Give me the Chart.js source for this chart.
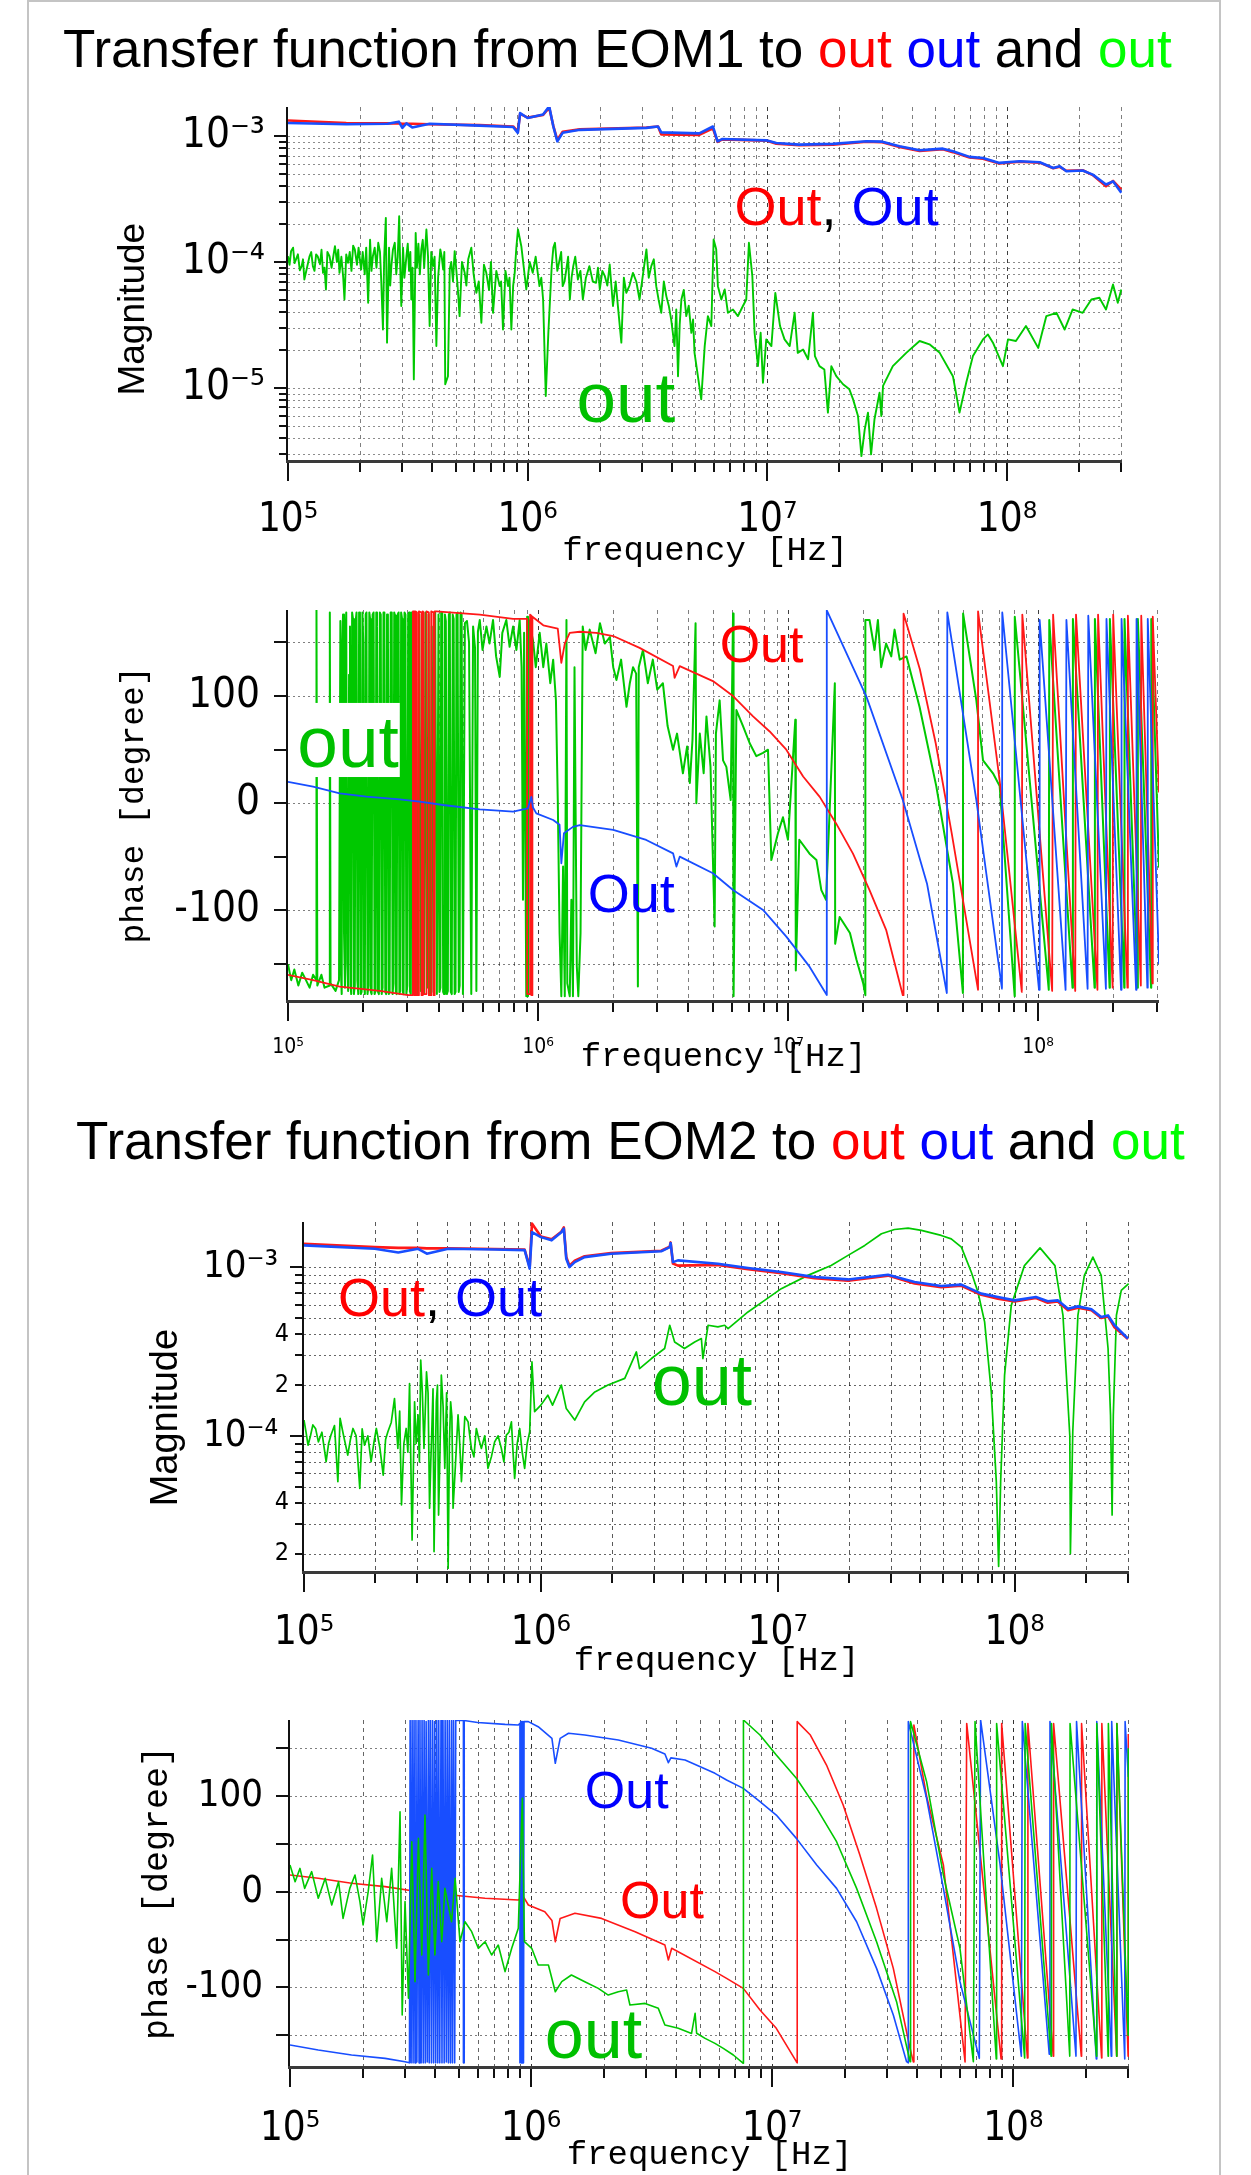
<!DOCTYPE html>
<html><head><meta charset="utf-8">
<script src="https://cdn.jsdelivr.net/npm/chart.js@4.4.1/dist/chart.umd.min.js"></script>
<style>
html,body{margin:0;padding:0;background:#fff;}
body{width:1251px;height:2175px;position:relative;overflow:hidden;font-family:'Liberation Sans',Arial,sans-serif;}
.frame{position:absolute;left:27px;top:0;width:1190px;height:2200px;border:2px solid #c4c4c4;border-bottom:none;}
.title{position:absolute;font-size:53px;line-height:53px;white-space:nowrap;color:#000;font-family:'Liberation Sans',Arial,sans-serif;}
canvas{position:absolute;left:0;}
</style></head><body>
<div class="frame"></div>
<div class="title" style="left:63px;top:22px">Transfer function from EOM1 to <span style="color:#ff0000">out</span> <span style="color:#0000ff">out</span> and <span style="color:#00ff00">out</span></div>
<div class="title" style="left:76px;top:1114px">Transfer function from EOM2 to <span style="color:#ff0000">out</span> <span style="color:#0000ff">out</span> and <span style="color:#00ff00">out</span></div>
<canvas id="c1" width="1251" height="500" style="top:80px"></canvas>
<canvas id="c2" width="1251" height="500" style="top:580px"></canvas>
<canvas id="c3" width="1251" height="510" style="top:1180px"></canvas>
<canvas id="c4" width="1251" height="485" style="top:1690px"></canvas>
<script>
// ---------- axis ticks / labels ----------
const freqTicks = [1e5,2e5,3e5,4e5,5e5,6e5,7e5,8e5,9e5,1e6,2e6,3e6,4e6,5e6,6e6,7e6,8e6,9e6,1e7,2e7,3e7,4e7,5e7,6e7,7e7,8e7,9e7,1e8,2e8,3e8];
const freqLabels = [[1e5,'10⁵'],[1e6,'10⁶'],[1e7,'10⁷'],[1e8,'10⁸']];
const mag1Ticks = [3e-6,4e-6,5e-6,6e-6,7e-6,8e-6,9e-6,1e-5,2e-5,3e-5,4e-5,5e-5,6e-5,7e-5,8e-5,9e-5,1e-4,2e-4,3e-4,4e-4,5e-4,6e-4,7e-4,8e-4,9e-4,1e-3];
const mag1Labels = [[1e-5,'10⁻⁵'],[1e-4,'10⁻⁴'],[1e-3,'10⁻³']];
const mag2Ticks = [2e-5,3e-5,4e-5,5e-5,6e-5,7e-5,8e-5,9e-5,1e-4,2e-4,3e-4,4e-4,5e-4,6e-4,7e-4,8e-4,9e-4,1e-3];
const mag2Labels = [[2e-5,'2'],[4e-5,'4'],[1e-4,'10⁻⁴ '],[2e-4,'2'],[4e-4,'4'],[1e-3,'10⁻³ ']];
const phaseTicks = [-150,-100,-50,0,50,100,150];
const phaseLabels = [[-100,'-100'],[0,'0'],[100,'100']];
const phase1Grid = [-150,-100,0,100,150];
const phase2Grid = [-150,-100,-50,0,50,100,150];

// ---------- EOM1 magnitude ----------
const mag1Freq = [1.0e5,1.75e5,2.6e5,2.9e5,3.0e5,3.12e5,3.3e5,3.9e5,6.3e5,8.7e5,9.1e5,9.3e5,1.0e6,1.16e6,1.23e6,1.28e6,1.33e6,1.40e6,1.65e6,3.13e6,3.5e6,3.61e6,5.2e6,5.93e6,6.2e6,6.5e6,9.9e6,1.09e7,1.36e7,1.88e7,2.59e7,2.99e7,3.56e7,4.32e7,5.4e7,5.95e7,6.98e7,7.94e7,9.3e7,1.13e8,1.37e8,1.56e8,1.66e8,1.77e8,2.07e8,2.28e8,2.59e8,2.77e8,3.0e8];
const mag1Blue = [1.27e-3,1.24e-3,1.25e-3,1.30e-3,1.16e-3,1.26e-3,1.17e-3,1.25e-3,1.21e-3,1.18e-3,1.06e-3,1.52e-3,1.39e-3,1.48e-3,1.72e-3,1.19e-3,0.907e-3,1.06e-3,1.12e-3,1.16e-3,1.19e-3,1.07e-3,1.05e-3,1.19e-3,0.908e-3,0.948e-3,0.924e-3,0.88e-3,0.855e-3,0.866e-3,0.908e-3,0.903e-3,0.829e-3,0.77e-3,0.794e-3,0.756e-3,0.683e-3,0.67e-3,0.612e-3,0.63e-3,0.619e-3,0.558e-3,0.575e-3,0.525e-3,0.532e-3,0.494e-3,0.412e-3,0.437e-3,0.354e-3];
const mag1Red = [1.33e-3,1.27e-3,1.26e-3,1.26e-3,1.25e-3,1.25e-3,1.25e-3,1.24e-3,1.22e-3,1.19e-3,1.09e-3,1.50e-3,1.40e-3,1.47e-3,1.68e-3,1.20e-3,0.93e-3,1.08e-3,1.13e-3,1.17e-3,1.19e-3,1.03e-3,1.02e-3,1.15e-3,0.90e-3,0.94e-3,0.92e-3,0.87e-3,0.845e-3,0.855e-3,0.90e-3,0.895e-3,0.82e-3,0.76e-3,0.785e-3,0.745e-3,0.675e-3,0.66e-3,0.605e-3,0.625e-3,0.615e-3,0.555e-3,0.57e-3,0.53e-3,0.535e-3,0.49e-3,0.40e-3,0.44e-3,0.376e-3];
const mag1Green = [[1.00e5,1.11e-4],[1.015e5,9.5e-5],[1.03e5,1.22e-4],[1.05e5,1.3e-4],[1.065e5,9.8e-5],[1.08e5,1.05e-4],[1.10e5,1.15e-4],[1.12e5,8.6e-5],[1.14e5,9.27e-5],[1.155e5,1.05e-4],[1.17e5,7.27e-5],[1.20e5,9.0e-5],[1.23e5,1.11e-4],[1.25e5,1.2e-4],[1.27e5,9.27e-5],[1.29e5,8.5e-5],[1.31e5,1.15e-4],[1.33e5,1.11e-4],[1.36e5,9.6e-5],[1.38e5,1.25e-4],[1.40e5,8.2e-5],[1.42e5,9.0e-5],[1.44e5,6.05e-5],[1.46e5,1.2e-4],[1.49e5,1.11e-4],[1.52e5,9.0e-5],[1.55e5,1.15e-4],[1.57e5,1.335e-4],[1.60e5,1.0e-4],[1.62e5,1.25e-4],[1.64e5,8.2e-5],[1.67e5,1.1e-4],[1.70e5,7.5e-5],[1.72e5,5.04e-5],[1.75e5,1.15e-4],[1.78e5,9.85e-5],[1.81e5,1.2e-4],[1.84e5,8.5e-5],[1.87e5,1.35e-4],[1.90e5,1.26e-4],[1.94e5,9.5e-5],[1.97e5,1.3e-4],[2.00e5,1.0e-4],[2.02e5,8.72e-5],[2.05e5,1.2e-4],[2.09e5,8.0e-5],[2.12e5,1.3e-4],[2.16e5,4.75e-5],[2.20e5,1.5e-4],[2.23e5,8.5e-5],[2.26e5,1.11e-4],[2.30e5,1.3e-4],[2.34e5,9.0e-5],[2.38e5,1.42e-4],[2.42e5,1.2e-4],[2.45e5,7.0e-5],[2.49e5,2.91e-5],[2.52e5,1.1e-4],[2.56e5,2.24e-4],[2.59e5,2.29e-5],[2.64e5,1.3e-4],[2.67e5,6.5e-5],[2.70e5,9.27e-5],[2.74e5,1.25e-4],[2.79e5,1.42e-4],[2.83e5,8.0e-5],[2.87e5,1.1e-4],[2.91e5,2.31e-4],[2.94e5,9e-5],[2.97e5,4.47e-5],[3.02e5,1.3e-4],[3.06e5,7.5e-5],[3.12e5,1.11e-4],[3.16e5,1.4e-4],[3.20e5,8.5e-5],[3.24e5,1.2e-4],[3.27e5,5.04e-5],[3.31e5,9e-5],[3.35e5,1.17e-5],[3.41e5,1.70e-4],[3.45e5,9e-5],[3.50e5,1.4e-4],[3.55e5,8e-5],[3.60e5,1.26e-4],[3.65e5,1.5e-4],[3.70e5,9e-5],[3.74e5,1.3e-4],[3.78e5,1.81e-4],[3.84e5,1.1e-4],[3.90e5,3.1e-5],[3.96e5,1.2e-4],[4.03e5,9.27e-5],[4.09e5,1.1e-4],[4.16e5,2.15e-5],[4.23e5,7.5e-5],[4.32e5,1.26e-4],[4.38e5,1.1e-4],[4.44e5,8.72e-5],[4.49e5,1.2e-4],[4.53e5,1.07e-5],[4.65e5,1.24e-5],[4.73e5,8.72e-5],[4.80e5,1.0e-4],[4.88e5,7e-5],[4.96e5,1.22e-4],[5.03e5,9e-5],[5.10e5,6.5e-5],[5.20e5,3.72e-5],[5.32e5,1.0e-4],[5.46e5,8.2e-5],[5.55e5,6.5e-5],[5.65e5,1.05e-4],[5.82e5,1.30e-4],[5.95e5,8e-5],[6.11e5,5.69e-5],[6.25e5,7e-5],[6.41e5,3.29e-5],[6.57e5,9.5e-5],[6.72e5,8.2e-5],[6.90e5,6e-5],[7.03e5,1.0e-4],[7.17e5,3.95e-5],[7.40e5,8.5e-5],[7.64e5,6.43e-5],[7.75e5,7e-5],[7.89e5,2.91e-5],[8.08e5,8.5e-5],[8.28e5,6.43e-5],[8.40e5,7.5e-5],[8.55e5,2.91e-5],[8.70e5,6.5e-5],[8.83e5,8.2e-5],[8.97e5,1.3e-4],[9.11e5,1.81e-4],[9.41e5,1.335e-4],[9.87e5,6.05e-5],[1.02e6,1.0e-4],[1.05e6,8.2e-5],[1.08e6,1.1e-4],[1.12e6,6.43e-5],[1.14e6,7.5e-5],[1.16e6,5.04e-5],[1.19e6,8.63e-6],[1.22e6,2.74e-5],[1.26e6,9.27e-5],[1.28e6,1.3e-4],[1.30e6,1.42e-4],[1.33e6,8.5e-5],[1.36e6,1.05e-4],[1.38e6,1.2e-4],[1.40e6,6.43e-5],[1.425e6,7e-5],[1.45e6,8.72e-5],[1.475e6,1.1e-4],[1.50e6,5.04e-5],[1.525e6,7.5e-5],[1.55e6,9.27e-5],[1.58e6,1.1e-4],[1.62e6,7.27e-5],[1.66e6,8.5e-5],[1.70e6,5.04e-5],[1.75e6,7.5e-5],[1.81e6,9.27e-5],[1.87e6,7e-5],[1.93e6,6.84e-5],[1.965e6,9e-5],[2.00e6,6.05e-5],[2.05e6,8.5e-5],[2.10e6,7.72e-5],[2.15e6,6.5e-5],[2.20e6,9.55e-5],[2.27e6,4.47e-5],[2.33e6,7e-5],[2.38e6,4.47e-5],[2.46e6,2.29e-5],[2.52e6,7.5e-5],[2.58e6,5.69e-5],[2.66e6,6.5e-5],[2.75e6,8.2e-5],[2.84e6,7e-5],[2.93e6,5.04e-5],[3.03e6,8e-5],[3.13e6,1.26e-4],[3.20e6,7.5e-5],[3.28e6,9.27e-5],[3.36e6,1.05e-4],[3.44e6,6.43e-5],[3.52e6,5e-5],[3.61e6,3.95e-5],[3.70e6,7e-5],[3.79e6,5.36e-5],[3.88e6,4.5e-5],[3.97e6,3.5e-5],[4.10e6,2.15e-5],[4.17e6,4.2e-5],[4.24e6,1.24e-5],[4.31e6,3.2e-5],[4.38e6,5.04e-5],[4.48e6,6e-5],[4.59e6,3.72e-5],[4.70e6,4.5e-5],[4.82e6,2.74e-5],[4.90e6,3.5e-5],[4.97e6,1.90e-5],[5.30e6,8.12e-6],[5.48e6,2.15e-5],[5.65e6,3.72e-5],[5.84e6,3.1e-5],[5.97e6,1.51e-4],[6.12e6,1.26e-4],[6.22e6,6.43e-5],[6.43e6,5.04e-5],[6.64e6,6.05e-5],[6.85e6,3.95e-5],[7.19e6,4.2e-5],[7.54e6,3.72e-5],[7.91e6,4.47e-5],[8.17e6,5.04e-5],[8.38e6,1.42e-4],[8.66e6,7.72e-5],[8.85e6,2.74e-5],[9.14e6,1.49e-5],[9.38e6,2.74e-5],[9.59e6,1.10e-5],[9.90e6,2.43e-5],[1.04e7,2.15e-5],[1.08e7,5.69e-5],[1.13e7,3.1e-5],[1.18e7,2.43e-5],[1.24e7,2.15e-5],[1.30e7,3.95e-5],[1.34e7,1.90e-5],[1.41e7,2.02e-5],[1.48e7,1.69e-5],[1.55e7,3.95e-5],[1.58e7,1.79e-5],[1.65e7,1.49e-5],[1.73e7,1.40e-5],[1.79e7,6.37e-6],[1.85e7,1.49e-5],[1.94e7,1.24e-5],[2.07e7,1.07e-5],[2.20e7,9.75e-6],[2.28e7,8.12e-6],[2.39e7,5.99e-6],[2.47e7,2.88e-6],[2.55e7,4.69e-6],[2.63e7,6.37e-6],[2.71e7,2.97e-6],[2.80e7,5.64e-6],[2.94e7,9.17e-6],[2.99e7,5.99e-6],[3.04e7,1.04e-5],[3.34e7,1.49e-5],[3.80e7,1.90e-5],[4.32e7,2.36e-5],[4.75e7,2.22e-5],[5.24e7,1.90e-5],[5.95e7,1.24e-5],[6.34e7,6.37e-6],[6.76e7,1.10e-5],[7.21e7,1.79e-5],[7.94e7,2.43e-5],[8.33e7,2.66e-5],[8.74e7,2.29e-5],[9.62e7,1.49e-5],[1.01e8,2.43e-5],[1.09e8,2.36e-5],[1.20e8,3.1e-5],[1.35e8,2.08e-5],[1.46e8,3.72e-5],[1.61e8,3.95e-5],[1.74e8,2.91e-5],[1.88e8,4.2e-5],[2.07e8,3.95e-5],[2.25e8,5.04e-5],[2.43e8,5.2e-5],[2.59e8,4.2e-5],[2.77e8,6.63e-5],[2.90e8,4.75e-5],[3.00e8,6.05e-5]];

// ---------- EOM1 phase ----------
const phase1Red = [[1.0e5,-160],[1.26e5,-165],[1.61e5,-171],[2.33e5,-175],[3.02e5,-179],[3.16e5,-179],[3.16e5,179],[3.21e5,179],[3.21e5,-179],[3.24e5,-179],[3.24e5,179],[3.28e5,178],[3.28e5,-179],[3.34e5,-179],[3.34e5,179],[3.42e5,178],[3.42e5,-179],[3.46e5,-179],[3.46e5,179],[3.49e5,178],[3.49e5,-178],[3.58e5,-178],[3.58e5,179],[3.66e5,178],[3.66e5,-179],[3.74e5,-179],[3.74e5,179],[3.82e5,178],[3.82e5,-179],[3.86e5,-179],[3.86e5,179],[3.92e5,179],[5.85e5,176],[7.95e5,172],[9.05e5,172],[9.05e5,-178],[9.3e5,-178],[9.3e5,176],[9.41e5,175],[9.41e5,-179],[9.5e5,-179],[9.5e5,174],[1.05e6,166],[1.20e6,163],[1.24e6,131],[1.28e6,149],[1.34e6,159],[1.47e6,160],[1.71e6,159],[2.00e6,156],[2.55e6,145],[3.47e6,128],[3.52e6,117],[3.69e6,128],[4.30e6,121],[5.01e6,114],[6.03e6,100],[7.25e6,81],[8.45e6,67],[9.85e6,50],[1.15e7,25],[1.34e7,6],[1.56e7,-19],[1.82e7,-47],[2.12e7,-81],[2.47e7,-118],[2.88e7,-179],[2.90e7,-179],[2.90e7,177],[3.37e7,125],[3.90e7,56],[4.52e7,-28],[5.76e7,-174],[5.76e7,179],[7.03e7,21],[8.62e7,-176],[8.66e7,176],[1.14e8,-175],[1.15e8,176],[1.41e8,-175],[1.42e8,176],[1.73e8,-174],[1.74e8,176],[1.99e8,-172],[2.00e8,176],[2.28e8,-172],[2.29e8,175],[2.58e8,-170],[2.59e8,175],[2.87e8,-168],[2.88e8,174],[3.05e8,10]];
const phase1Blue = [[1.0e5,20],[1.26e5,15.5],[1.61e5,9.3],[2.06e5,6.2],[2.80e5,3.7],[3.36e5,1.5],[4.17e5,-1.6],[5.85e5,-5.6],[7.95e5,-7.8],[9.12e5,-4.7],[9.41e5,6],[9.55e5,-4],[9.85e5,-9.4],[1.15e6,-15.6],[1.22e6,-20],[1.24e6,-56],[1.27e6,-28],[1.38e6,-22],[1.47e6,-20.3],[2.00e6,-24.9],[2.71e6,-34.2],[3.47e6,-46.7],[3.58e6,-59],[3.69e6,-49.8],[5.01e6,-65.3],[6.03e6,-80.9],[7.95e6,-99.5],[9.85e6,-124.4],[1.22e7,-152.4],[1.43e7,-178.8],[1.43e7,180],[2.06e7,99.5],[2.88e7,3],[3.6e7,-75],[4.32e7,-177],[4.34e7,178],[5.67e7,3],[7.18e7,-173],[7.2e7,178],[1.01e8,-174],[1.016e8,171],[1.29e8,-174],[1.30e8,171],[1.58e8,-173],[1.59e8,175],[1.87e8,-173],[1.88e8,172],[2.15e8,-174],[2.16e8,172],[2.47e8,-174],[2.48e8,172],[2.74e8,-172],[2.75e8,172],[3.05e8,-150]];
const phase1Green = [[1.0e5,-150],[1.03e5,-165],[1.06e5,-155],[1.1e5,-170],[1.14e5,-158],[1.18e5,-165],[1.22e5,-172],[1.26e5,-160],[1.30e5,-165],[1.30e5,180],[1.31e5,-170],[1.36e5,-160],[1.40e5,-172],[1.47e5,-170],[1.47e5,178],[1.48e5,-168],[1.55e5,-175],[1.60e5,-165],[1.62e5,170],[1.63e5,-160],[1.64e5,-178],[1.65e5,150],[1.66e5,176],[1.675e5,-120],[1.69e5,-172],[1.70e5,160],[1.71e5,178],[1.725e5,-150],[1.74e5,-175],[1.755e5,120],[1.77e5,165],[1.78e5,-170],[1.79e5,-178],[1.805e5,178],[1.82e5,172],[1.835e5,-178],[1.85e5,-170],[1.865e5,170],[1.88e5,178],[1.895e5,-165],[1.91e5,-178],[1.925e5,178],[1.94e5,175],[1.955e5,-178],[1.97e5,-176],[1.985e5,178],[2.0e5,150],[2.015e5,-170],[2.03e5,-178],[2.045e5,176],[2.06e5,178],[2.08e5,-178],[2.1e5,-170],[2.115e5,178],[2.13e5,172],[2.145e5,-176],[2.16e5,-178],[2.18e5,176],[2.2e5,178],[2.22e5,-178],[2.24e5,-175],[2.255e5,178],[2.27e5,165],[2.29e5,-176],[2.31e5,-178],[2.33e5,178],[2.35e5,176],[2.37e5,-178],[2.39e5,-172],[2.41e5,178],[2.43e5,178],[2.45e5,-176],[2.47e5,-178],[2.49e5,176],[2.51e5,170],[2.53e5,-178],[2.55e5,-176],[2.575e5,178],[2.6e5,178],[2.62e5,-178],[2.64e5,-168],[2.66e5,178],[2.68e5,175],[2.70e5,-176],[2.72e5,-178],[2.745e5,176],[2.77e5,178],[2.79e5,-178],[2.81e5,-175],[2.835e5,178],[2.86e5,172],[2.88e5,-176],[2.9e5,-178],[2.925e5,178],[2.95e5,176],[2.975e5,-178],[3.0e5,-170],[3.025e5,176],[3.05e5,178],[3.075e5,-176],[3.1e5,-178],[3.125e5,178],[3.15e5,175],[3.175e5,-178],[3.2e5,-176],[3.225e5,176],[3.25e5,178],[3.275e5,-176],[3.3e5,-178],[3.35e5,176],[3.4e5,-175],[3.45e5,170],[3.5e5,-178],[3.55e5,178],[3.6e5,-172],[3.65e5,176],[3.7e5,-178],[3.76e5,165],[3.82e5,-176],[3.88e5,178],[3.94e5,-178],[4.0e5,176],[4.035e5,-176],[4.07e5,-172],[4.1e5,178],[4.14e5,178],[4.175e5,-176],[4.21e5,-178],[4.245e5,176],[4.28e5,170],[4.32e5,-178],[4.36e5,-175],[4.4e5,176],[4.44e5,178],[4.48e5,-176],[4.52e5,-178],[4.56e5,176],[4.6e5,172],[4.64e5,-178],[4.68e5,-176],[4.72e5,176],[4.77e5,178],[4.82e5,-176],[4.86e5,-170],[4.9e5,178],[4.95e5,176],[5.01e5,-178],[5.1e5,168],[5.2e5,170],[5.3e5,150],[5.41e5,-178],[5.5e5,165],[5.6e5,145],[5.67e5,-175],[5.75e5,160],[5.85e5,171],[6.0e5,143],[6.22e5,165],[6.4e5,149],[6.61e5,171],[6.8e5,137],[7.03e5,118],[7.2e5,159],[7.47e5,171],[7.7e5,146],[7.95e5,165],[8.2e5,143],[8.45e5,171],[8.6e5,127],[8.71e5,-90],[8.8e5,159],[8.98e5,-180],[9.05e5,174],[9.12e5,-180],[9.2e5,171],[9.55e5,152],[9.8e5,127],[1.016e6,159],[1.05e6,127],[1.08e6,149],[1.12e6,112],[1.15e6,134],[1.18e6,96],[1.2e6,3],[1.22e6,-121],[1.24e6,-180],[1.26e6,-59],[1.28e6,-180],[1.3e6,171],[1.31e6,-168],[1.34e6,-180],[1.36e6,-90],[1.38e6,-180],[1.4e6,127],[1.43e6,-152],[1.45e6,-180],[1.48e6,-121],[1.51e6,165],[1.55e6,143],[1.61e6,162],[1.7e6,140],[1.77e6,168],[1.85e6,149],[1.94e6,155],[2.0e6,127],[2.06e6,115],[2.15e6,134],[2.26e6,90],[2.33e6,112],[2.4e6,127],[2.47e6,121],[2.51e6,-171],[2.53e6,127],[2.63e6,143],[2.75e6,112],[2.88e6,134],[3.0e6,106],[3.16e6,112],[3.3e6,72],[3.47e6,50],[3.6e6,65],[3.8e6,28],[3.95e6,53],[4.05e6,19],[4.15e6,59],[4.27e6,168],[4.3e6,0],[4.44e6,65],[4.6e6,28],[4.72e6,81],[4.9e6,34],[5.09e6,-115],[5.15e6,65],[5.33e6,96],[5.5e6,40],[5.67e6,34],[5.9e6,3],[6.03e6,177],[6.06e6,-180],[6.22e6,87],[6.61e6,72],[7.03e6,56],[7.47e6,44],[7.95e6,47],[8.32e6,50],[8.58e6,-53],[9.12e6,-28],[9.55e6,-13],[1.0e7,-34],[1.07e7,78],[1.075e7,-156],[1.11e7,-34],[1.22e7,-47],[1.30e7,-53],[1.36e7,-81],[1.42e7,-90],[1.54e7,112],[1.545e7,-131],[1.61e7,-106],[1.77e7,-121],[1.88e7,-146],[2.0e7,-168],[2.04e7,-179],[2.04e7,171],[2.12e7,171],[2.22e7,143],[2.29e7,171],[2.36e7,127],[2.47e7,149],[2.59e7,137],[2.67e7,162],[2.80e7,134],[2.98e7,137],[3.36e7,90],[3.92e7,16],[4.57e7,-75],[5.01e7,-177],[5.02e7,177],[5.67e7,96],[6.03e7,40],[6.61e7,28],[7.03e7,16],[8.07e7,-180],[8.08e7,174],[1.105e8,-174],[1.11e8,171],[1.375e8,-172],[1.38e8,172],[1.685e8,-172],[1.69e8,172],[1.935e8,-172],[1.94e8,172],[2.215e8,-172],[2.22e8,172],[2.505e8,-172],[2.51e8,172],[2.835e8,-172],[2.84e8,172],[3.05e8,-60]];

// ---------- EOM2 magnitude ----------
const mag2Freq = [1.0e5,1.99e5,2.5e5,3.03e5,3.3e5,4.06e5,6.38e5,8.54e5,8.97e5,9.17e5,1.0e6,1.11e6,1.22e6,1.25e6,1.28e6,1.32e6,1.39e6,1.53e6,1.98e6,3.22e6,3.50e6,3.53e6,3.61e6,3.79e6,5.59e6,7.49e6,1.035e7,1.43e7,1.98e7,2.92e7,3.78e7,4.90e7,5.96e7,7.23e7,8.50e7,1.0e8,1.23e8,1.38e8,1.52e8,1.68e8,1.85e8,2.11e8,2.32e8,2.48e8,2.64e8,3.01e8];
const mag2Blue = [1.344e-3,1.284e-3,1.22e-3,1.284e-3,1.20e-3,1.284e-3,1.27e-3,1.26e-3,0.978e-3,1.61e-3,1.505e-3,1.44e-3,1.61e-3,1.69e-3,1.12e-3,1.0e-3,1.07e-3,1.146e-3,1.2e-3,1.24e-3,1.313e-3,1.39e-3,1.07e-3,1.096e-3,1.046e-3,0.987e-3,0.935e-3,0.873e-3,0.845e-3,0.901e-3,0.815e-3,0.772e-3,0.787e-3,0.696e-3,0.665e-3,0.635e-3,0.665e-3,0.627e-3,0.635e-3,0.567e-3,0.585e-3,0.562e-3,0.506e-3,0.517e-3,0.452e-3,0.377e-3];
const mag2Red = [1.375e-3,1.313e-3,1.30e-3,1.30e-3,1.29e-3,1.29e-3,1.28e-3,1.27e-3,1.0e-3,1.81e-3,1.52e-3,1.46e-3,1.62e-3,1.72e-3,1.15e-3,1.02e-3,1.09e-3,1.16e-3,1.21e-3,1.25e-3,1.32e-3,1.40e-3,1.05e-3,1.02e-3,1.03e-3,0.97e-3,0.92e-3,0.86e-3,0.83e-3,0.89e-3,0.80e-3,0.76e-3,0.775e-3,0.685e-3,0.65e-3,0.625e-3,0.655e-3,0.615e-3,0.625e-3,0.555e-3,0.575e-3,0.555e-3,0.50e-3,0.51e-3,0.44e-3,0.375e-3];
const mag2Green = [[1.0e5,1.24e-4],[1.02e5,1.05e-4],[1.04e5,8.8e-5],[1.065e5,1.0e-4],[1.09e5,1.16e-4],[1.12e5,1.1e-4],[1.15e5,9.2e-5],[1.19e5,1.05e-4],[1.24e5,7.02e-5],[1.27e5,9e-5],[1.30e5,1.01e-4],[1.345e5,1.15e-4],[1.39e5,5.35e-5],[1.42e5,1.27e-4],[1.47e5,1.0e-4],[1.53e5,7.69e-5],[1.57e5,9.5e-5],[1.61e5,1.105e-4],[1.66e5,1.0e-4],[1.72e5,4.88e-5],[1.76e5,1.1e-4],[1.80e5,8.8e-5],[1.86e5,1.0e-4],[1.92e5,7.02e-5],[1.97e5,9e-5],[2.02e5,1.105e-4],[2.09e5,8.5e-5],[2.16e5,5.85e-5],[2.21e5,9.5e-5],[2.26e5,1.057e-4],[2.335e5,1.2e-4],[2.41e5,1.66e-4],[2.49e5,8.42e-5],[2.535e5,1.4e-4],[2.58e5,3.89e-5],[2.64e5,9e-5],[2.70e5,1.105e-4],[2.745e5,8e-5],[2.79e5,2.04e-4],[2.86e5,2.41e-5],[2.93e5,1.59e-4],[2.975e5,9e-5],[3.03e5,1.33e-4],[3.07e5,7e-5],[3.11e5,2.81e-4],[3.16e5,1.8e-4],[3.21e5,8.42e-5],[3.25e5,1.4e-4],[3.29e5,2.39e-4],[3.34e5,1.8e-4],[3.39e5,3.72e-5],[3.43e5,7e-5],[3.47e5,1.16e-4],[3.505e5,1.9e-4],[3.54e5,2.06e-5],[3.58e5,6e-5],[3.62e5,1.59e-4],[3.66e5,2.0e-4],[3.70e5,3.39e-5],[3.75e5,8e-5],[3.80e5,2.29e-4],[3.865e5,1.5e-4],[3.93e5,6.41e-5],[4.0e5,1.8e-4],[4.06e5,1.64e-5],[4.11e5,9e-5],[4.16e5,1.59e-4],[4.21e5,1.3e-4],[4.26e5,3.72e-5],[4.365e5,7e-5],[4.47e5,1.33e-4],[4.545e5,9e-5],[4.62e5,5.35e-5],[4.775e5,1.3e-4],[4.93e5,1.21e-4],[5.01e5,1.0e-4],[5.09e5,8.42e-5],[5.215e5,7.5e-5],[5.34e5,1.105e-4],[5.475e5,9.5e-5],[5.61e5,8.42e-5],[5.795e5,1.0e-4],[5.98e5,6.41e-5],[6.18e5,7.5e-5],[6.38e5,9.2e-5],[6.595e5,1.0e-4],[6.81e5,8.42e-5],[6.98e5,7e-5],[7.15e5,1.01e-4],[7.33e5,1.05e-4],[7.51e5,1.21e-4],[7.63e5,8e-5],[7.75e5,5.59e-5],[7.945e5,9e-5],[8.14e5,1.105e-4],[8.34e5,8e-5],[8.54e5,6.41e-5],[8.755e5,9e-5],[8.97e5,1.057e-4],[9.17e5,2.74e-4],[9.41e5,1.39e-4],[1.00e6,1.52e-4],[1.07e6,1.74e-4],[1.12e6,1.52e-4],[1.22e6,2.0e-4],[1.28e6,1.45e-4],[1.39e6,1.24e-4],[1.53e6,1.59e-4],[1.69e6,1.82e-4],[1.92e6,2.0e-4],[2.26e6,2.19e-4],[2.53e6,3.14e-4],[2.61e6,2.50e-4],[2.93e6,2.87e-4],[3.33e6,3.29e-4],[3.50e6,4.52e-4],[3.67e6,3.6e-4],[4.04e6,3.29e-4],[4.46e6,3.6e-4],[4.76e6,3.77e-4],[4.83e6,2.87e-4],[5.08e6,4.52e-4],[5.59e6,4.42e-4],[5.97e6,4.52e-4],[6.17e6,4.32e-4],[7.49e6,5.42e-4],[8.80e6,6.35e-4],[1.035e7,7.45e-4],[1.34e7,8.93e-4],[1.68e7,1.023e-3],[1.98e7,1.173e-3],[2.33e7,1.344e-3],[2.74e7,1.576e-3],[3.11e7,1.67e-3],[3.55e7,1.70e-3],[4.04e7,1.65e-3],[4.90e7,1.54e-3],[5.40e7,1.47e-3],[5.96e7,1.313e-3],[6.56e7,9.35e-4],[7.00e7,7.12e-4],[7.47e7,4.73e-4],[7.97e7,1.82e-4],[8.37e7,5.35e-5],[8.56e7,1.68e-5],[8.73e7,5.35e-5],[9.07e7,2.29e-4],[9.68e7,5.93e-4],[1.10e8,1.02e-3],[1.28e8,1.30e-3],[1.48e8,1.02e-3],[1.60e8,5.18e-4],[1.71e8,1.0e-4],[1.72e8,2.01e-5],[1.76e8,1.057e-4],[1.85e8,5.18e-4],[1.97e8,8.93e-4],[2.14e8,1.146e-3],[2.32e8,8.93e-4],[2.48e8,3.29e-4],[2.54e8,1.33e-4],[2.58e8,3.39e-5],[2.61e8,1.33e-4],[2.69e8,5.18e-4],[2.82e8,7.28e-4],[3.03e8,7.97e-4]];

// ---------- EOM2 phase ----------
const phase2Red = [[1.0e5,17.5],[1.31e5,14],[1.80e5,8.8],[2.48e5,5.3],[3.41e5,0],[4.68e5,-3.4],[6.44e5,-6.9],[8.85e5,-8.7],[9.29e5,-5.2],[9.74e5,-13.9],[1.14e6,-20.9],[1.22e6,-30],[1.26e6,-52.3],[1.32e6,-27.9],[1.52e6,-22.6],[1.96e6,-27.9],[2.70e6,-41.8],[3.59e6,-55.8],[3.71e6,-71.4],[3.83e6,-59.2],[5.79e6,-83.6],[6.47e6,-90.6],[7.59e6,-101.1],[8.90e6,-123.7],[1.04e7,-142.9],[1.26e7,-177.8],[1.27e7,-179],[1.27e7,177.9],[1.44e7,163.9],[1.68e7,132.5],[1.97e7,90.7],[2.31e7,38.4],[2.71e7,-17.4],[3.18e7,-80.2],[3.73e7,-163.8],[3.85e7,-178],[3.87e7,-178],[3.87e7,174.4],[4.37e7,100],[5.13e7,28],[6.31e7,-178],[6.41e7,176],[7.5e7,10],[8.9e7,-175],[8.95e7,176],[1.145e8,-174],[1.15e8,176],[1.465e8,-172],[1.47e8,176],[1.915e8,-172],[1.92e8,176],[2.325e8,-174],[2.33e8,176],[2.685e8,-172],[2.69e8,176],[2.995e8,-172],[3.0e8,165]];
const phase2Blue = [[1.0e5,-160.4],[1.31e5,-165.6],[1.80e5,-170.8],[2.48e5,-174.3],[3.0e5,-177.8],[3.13e5,-179],[3.15e5,179],[3.18e5,-179],[3.21e5,179],[3.24e5,-179],[3.27e5,179],[3.3e5,-179],[3.33e5,179],[3.36e5,-178],[3.4e5,179],[3.43e5,-179],[3.46e5,179],[3.5e5,-179],[3.53e5,179],[3.57e5,-179],[3.6e5,179],[3.64e5,-179],[3.67e5,178],[3.71e5,-178],[3.75e5,179],[3.78e5,-179],[3.82e5,179],[3.86e5,-179],[3.9e5,179],[3.94e5,-179],[3.98e5,178],[4.02e5,-179],[4.06e5,179],[4.1e5,-179],[4.14e5,179],[4.18e5,-179],[4.23e5,179],[4.27e5,-179],[4.31e5,179],[4.36e5,-179],[4.4e5,179],[4.45e5,-178],[4.49e5,179],[4.54e5,-179],[4.58e5,179],[4.63e5,-179],[4.68e5,179],[4.72e5,-179],[4.77e5,179],[4.82e5,-179],[4.87e5,179],[5.24e5,179],[5.24e5,-179],[5.28e5,-179],[5.28e5,179],[6.0e5,177],[7.8e5,175],[8.85e5,174.4],[8.99e5,176],[8.99e5,-179],[9.05e5,178],[9.1e5,-179],[9.15e5,178],[9.2e5,-179],[9.25e5,178],[9.3e5,-179],[9.35e5,178],[9.74e5,177.9],[1.07e6,172.6],[1.22e6,160.4],[1.26e6,134.3],[1.32e6,160.4],[1.43e6,165.7],[1.67e6,163.9],[2.30e6,158.7],[3.16e6,150],[3.59e6,144],[3.71e6,135],[3.8e6,140],[4.35e6,137.8],[5.79e6,123.8],[6.47e6,116.8],[7.59e6,108.1],[8.90e6,94.2],[1.04e7,80.2],[1.26e7,55.8],[1.53e7,27.9],[1.85e7,3.5],[2.24e7,-31.4],[2.71e7,-80.2],[3.18e7,-129],[3.61e7,-177.8],[3.67e7,-179],[3.67e7,177.9],[4.37e7,97.7],[5.13e7,3.5],[6.01e7,-94.1],[7.23e7,-174.3],[7.32e7,179.6],[8.8e7,30],[1.08e8,-172],[1.09e8,178],[1.41e8,-170],[1.42e8,178],[1.82e8,-172],[1.83e8,178],[2.21e8,-175],[2.22e8,178],[2.55e8,-172],[2.56e8,178],[2.90e8,-175],[2.91e8,178],[3.0e8,120]];
const phase2Green = [[1.0e5,27.9],[1.05e5,10.5],[1.10e5,24.4],[1.15e5,3.5],[1.23e5,21],[1.31e5,-6.9],[1.40e5,14],[1.49e5,-13.9],[1.59e5,10.5],[1.66e5,-27.9],[1.77e5,3.5],[1.86e5,17.5],[1.95e5,-10.4],[2.01e5,-34.8],[2.11e5,0],[2.20e5,38.4],[2.29e5,-52.3],[2.40e5,14],[2.52e5,-31.4],[2.64e5,24.4],[2.77e5,-59.2],[2.86e5,83.7],[2.92e5,-129],[3.00e5,-10.4],[3.10e5,-111.5],[3.20e5,52.3],[3.30e5,-94.1],[3.41e5,55.8],[3.52e5,-66.2],[3.63e5,80.2],[3.75e5,-87.1],[3.87e5,24.4],[3.99e5,-66.2],[4.12e5,10.5],[4.26e5,-52.3],[4.39e5,3.5],[4.68e5,-31.4],[4.84e5,14],[5.07e5,-52.3],[5.32e5,-31.4],[5.67e5,-41.8],[6.04e5,-59.2],[6.44e5,-52.3],[6.86e5,-66.2],[7.31e5,-55.8],[7.80e5,-83.6],[8.31e5,-59.2],[8.85e5,-38.3],[9.20e5,97.7],[9.38e5,-52.3],[1.006e6,-59.2],[1.07e6,-76.7],[1.18e6,-76.7],[1.26e6,-104.6],[1.34e6,-94.1],[1.47e6,-87.1],[1.67e6,-94.1],[1.90e6,-101.1],[2.09e6,-108.1],[2.30e6,-104.6],[2.49e6,-102.8],[2.57e6,-118.5],[2.97e6,-116.8],[3.37e6,-122],[3.59e6,-139.4],[4.08e6,-142.9],[4.63e6,-148.2],[4.79e6,-127.2],[4.86e6,-148],[5.27e6,-153.4],[5.79e6,-158.6],[6.27e6,-163.8],[6.90e6,-170.8],[7.59e6,-179.5],[7.6e6,179.6],[8.90e6,163.9],[1.04e7,143],[1.26e7,118.6],[1.53e7,87.2],[1.85e7,52.3],[2.24e7,3.5],[2.71e7,-52.3],[3.28e7,-115],[3.73e7,-177.8],[3.75e7,177.9],[4.37e7,115.1],[5.13e7,17.5],[6.01e7,-59.2],[6.83e7,-177.8],[6.94e7,178],[8.5e7,-175],[8.53e7,176],[1.115e8,-174],[1.12e8,176],[1.435e8,-172],[1.44e8,176],[1.715e8,-172],[1.72e8,176],[2.215e8,-172],[2.22e8,176],[2.475e8,-172],[2.48e8,176],[2.685e8,-172],[2.69e8,176],[2.995e8,-150],[3.0e8,150]];

// ---------- rendering ----------
const NARROW = "'Liberation Sans Narrow','Arial Narrow','DejaVu Sans Condensed','Liberation Sans',sans-serif";
const SANS = "'Liberation Sans',Arial,sans-serif";
const MONO = "'Liberation Mono','DejaVu Sans Mono',monospace";
const RED = 'rgb(255,24,24)', BLUE = 'rgb(24,78,255)', GREEN = 'rgb(0,200,0)';

function labelFor(v, list) {
  for (const [k, t] of list) if (Math.abs(v - k) <= Math.abs(k) * 1e-6) return t;
  return '';
}
function isDecade(v) { const l = Math.log10(v); return Math.abs(l - Math.round(l)) < 1e-6; }
const pairs = arr => arr.map(([x, y]) => ({x, y}));
const zipXY = (f, v) => f.map((x, i) => ({x, y: v[i]}));

const decoPlugin = {
  id: 'panelDeco',
  beforeDatasetsDraw(chart, args, o) {
    const {ctx, chartArea: a} = chart; const xs = chart.scales.x, ys = chart.scales.y;
    ctx.save();
    ctx.lineWidth = 1;
    for (const v of o.yGrid) {
      const py = Math.round(ys.getPixelForValue(v)) + 0.5;
      if (py < a.top || py > a.bottom - 1) continue;
      ctx.strokeStyle = o.hColor; ctx.setLineDash(o.hDash);
      ctx.beginPath(); ctx.moveTo(a.left, py); ctx.lineTo(a.right, py); ctx.stroke();
    }
    for (const v of freqTicks) {
      const px = Math.round(xs.getPixelForValue(v)) + 0.5;
      if (px < a.left + 2 || px > a.right + 1) continue;
      ctx.strokeStyle = isDecade(v) ? o.vColorMajor : o.vColor; ctx.setLineDash(o.vDash);
      ctx.beginPath(); ctx.moveTo(px, a.top); ctx.lineTo(px, a.bottom); ctx.stroke();
    }
    ctx.restore();
  },
  afterDatasetsDraw(chart, args, o) {
    const {ctx, chartArea: a} = chart; const xs = chart.scales.x, ys = chart.scales.y;
    ctx.save();
    ctx.setLineDash([]);
    ctx.textBaseline = 'alphabetic'; ctx.textAlign = 'left';
    for (const t of o.notes) {
      if (t.box) {
        const bx0 = xs.getPixelForValue(t.box[0]), bx1 = xs.getPixelForValue(t.box[1]);
        const by0 = ys.getPixelForValue(t.box[2]), by1 = ys.getPixelForValue(t.box[3]);
        ctx.fillStyle = '#fff'; ctx.fillRect(bx0, by0, bx1 - bx0, by1 - by0);
      }
      ctx.font = t.size + 'px ' + SANS;
      let cx = xs.getPixelForValue(t.x); const cy = ys.getPixelForValue(t.y);
      for (const [s, c] of t.parts) { ctx.fillStyle = c; ctx.fillText(s, cx, cy); cx += ctx.measureText(s).width; }
    }
    ctx.strokeStyle = '#111'; ctx.lineWidth = 2;
    ctx.beginPath(); ctx.moveTo(a.left - 1, a.top); ctx.lineTo(a.left - 1, a.bottom + 1); ctx.stroke();
    ctx.strokeStyle = '#3a3a3a'; ctx.lineWidth = 3;
    ctx.beginPath(); ctx.moveTo(a.left - 2, a.bottom + 1.5); ctx.lineTo(a.right, a.bottom + 1.5); ctx.stroke();
    ctx.strokeStyle = '#111'; ctx.lineWidth = 2;
    for (const v of freqTicks) {
      const px = Math.round(xs.getPixelForValue(v));
      if (px < a.left - 2 || px > a.right + 1) continue;
      const len = isDecade(v) ? 18 : 9;
      ctx.beginPath(); ctx.moveTo(px, a.bottom + 3); ctx.lineTo(px, a.bottom + 3 + len); ctx.stroke();
    }
    for (const v of o.yTickMarks) {
      const py = Math.round(ys.getPixelForValue(v));
      if (py < a.top - 1 || py > a.bottom + 1) continue;
      const len = o.yMajor(v) ? 12 : 7;
      ctx.beginPath(); ctx.moveTo(a.left - 2, py); ctx.lineTo(a.left - 2 - len, py); ctx.stroke();
    }
    ctx.restore();
  }
};

function buildPanel(P) {
  new Chart(document.getElementById(P.id), {
    type: 'line',
    data: { datasets: P.series.map(s => ({
      data: s.data, borderColor: s.color, borderWidth: s.width, pointRadius: 0,
      fill: false, tension: 0, borderJoinStyle: 'round', spanGaps: true
    })) },
    options: {
      responsive: false, animation: false, devicePixelRatio: 1,
      layout: { padding: { left: 0, top: P.padTop, right: P.padRight, bottom: 0 } },
      plugins: { legend: { display: false }, tooltip: { enabled: false }, panelDeco: P.deco },
      events: [],
      scales: {
        x: {
          type: 'logarithmic', position: 'bottom', min: P.xMin, max: P.xMax,
          grid: { display: false, drawTicks: false }, border: { display: false },
          afterBuildTicks: ax => { ax.ticks = freqTicks.map(v => ({ value: v })); },
          afterFit: ax => { ax.height = P.xAxisH; ax.paddingLeft = 0; ax.paddingRight = 0; },
          ticks: { autoSkip: false, maxRotation: 0, minRotation: 0, padding: P.xTickPad, color: '#000',
                   font: { family: NARROW, size: P.xTickSize }, callback: v => labelFor(v, freqLabels) },
          title: { display: true, text: 'frequency [Hz]', color: '#000',
                   font: { family: MONO, size: 34 }, padding: { top: 0, bottom: P.xTitlePad } }
        },
        y: {
          type: P.yType, position: 'left', min: P.yMin, max: P.yMax,
          grid: { display: false, drawTicks: false }, border: { display: false },
          afterBuildTicks: ax => { ax.ticks = P.yTicks.map(v => ({ value: v })); },
          afterFit: ax => { ax.width = P.yAxisW; ax.paddingTop = 0; ax.paddingBottom = 0; },
          ticks: { autoSkip: false, padding: P.yTickPad, color: '#000', font: P.yTickFont,
                   callback: v => labelFor(v, P.yLabels) },
          title: { display: true, text: P.yTitle, color: '#000', font: P.yTitleFont,
                   padding: { top: P.yTitlePad, bottom: 0 } }
        }
      }
    },
    plugins: [decoPlugin]
  });
}

const magMajor = v => isDecade(v);
const phaseMajor = v => true;

buildPanel({
  id: 'c1', padTop: 27, padRight: 129, yAxisW: 288, xAxisH: 120,
  xMin: 1e5, xMax: 3.02e8, xTickPad: 37, xTickSize: 40, xTitlePad: 9,
  yType: 'logarithmic', yMin: 2.68e-6, yMax: 1.70e-3, yTicks: mag1Ticks, yLabels: mag1Labels,
  yTickPad: 23, yTickFont: { family: NARROW, size: 42 },
  yTitle: 'Magnitude     ', yTitleFont: { family: SANS, size: 37 }, yTitlePad: 112,
  series: [
    { data: zipXY(mag1Freq, mag1Blue), color: BLUE, width: 2.6 },
    { data: zipXY(mag1Freq, mag1Red), color: RED, width: 2.6 },
    { data: pairs(mag1Green), color: GREEN, width: 1.9 }
  ],
  deco: { yGrid: mag1Ticks, yTickMarks: mag1Ticks, yMajor: magMajor,
          hColor: 'rgba(0,0,0,0.45)', hDash: [2, 3], vColor: 'rgba(0,0,0,0.5)', vColorMajor: 'rgba(0,0,0,0.75)', vDash: [4, 4],
          notes: [
            { x: 7.3e6, y: 1.98e-4, size: 54, parts: [['Out', '#ff0000'], [', ', '#000'], ['Out', '#0000ff']] },
            { x: 1.60e6, y: 5.33e-6, size: 71, parts: [['out', '#00c000']] }
          ] }
});

buildPanel({
  id: 'c2', padTop: 30, padRight: 92, yAxisW: 288, xAxisH: 80,
  xMin: 1e5, xMax: 3.05e8, xTickPad: 35, xTickSize: 21, xTitlePad: 3,
  yType: 'linear', yMin: -183.5, yMax: 180.3, yTicks: phaseTicks, yLabels: phaseLabels,
  yTickPad: 28, yTickFont: { family: NARROW, size: 42 },
  yTitle: 'phase [degree]', yTitleFont: { family: MONO, size: 33 }, yTitlePad: 114,
  series: [
    { data: pairs(phase1Blue), color: BLUE, width: 1.8 },
    { data: pairs(phase1Red), color: RED, width: 1.8 },
    { data: pairs(phase1Green), color: GREEN, width: 2.0 }
  ],
  deco: { yGrid: phase1Grid, yTickMarks: phaseTicks, yMajor: phaseMajor,
          hColor: 'rgba(0,0,0,0.5)', hDash: [2, 3], vColor: 'rgba(0,0,0,0.5)', vColorMajor: 'rgba(0,0,0,0.75)', vDash: [4, 4],
          notes: [
            { x: 5.33e6, y: 131.8, size: 52, parts: [['Out', '#ff0000']] },
            { x: 1.09e5, y: 33.9, size: 73, parts: [['out', '#00c000']], box: [1.02e5, 2.80e5, 93.6, 24.5] },
            { x: 1.58e6, y: -101.4, size: 54, parts: [['Out', '#0000ff']] }
          ] }
});

buildPanel({
  id: 'c3', padTop: 42, padRight: 122, yAxisW: 304, xAxisH: 119,
  xMin: 1e5, xMax: 3.04e8, xTickPad: 39, xTickSize: 40, xTitlePad: 9,
  yType: 'logarithmic', yMin: 1.58e-5, yMax: 1.85e-3, yTicks: mag2Ticks, yLabels: mag2Labels,
  yTickPad: 15, yTickFont: c => ({ family: NARROW, size: (c.tick && isDecade(c.tick.value)) ? 38 : 25 }),
  yTitle: 'Magnitude    ', yTitleFont: { family: SANS, size: 38 }, yTitlePad: 144,
  series: [
    { data: zipXY(mag2Freq, mag2Blue), color: BLUE, width: 2.6 },
    { data: zipXY(mag2Freq, mag2Red), color: RED, width: 2.6 },
    { data: pairs(mag2Green), color: GREEN, width: 1.7 }
  ],
  deco: { yGrid: mag2Ticks, yTickMarks: mag2Ticks, yMajor: magMajor,
          hColor: 'rgba(0,0,0,0.6)', hDash: [2, 3], vColor: 'rgba(0,0,0,0.65)', vColorMajor: 'rgba(0,0,0,0.8)', vDash: [4, 4],
          notes: [
            { x: 1.39e5, y: 5.11e-4, size: 54, parts: [['Out', '#ff0000'], [', ', '#000'], ['Out', '#0000ff']] },
            { x: 2.94e6, y: 1.52e-4, size: 72, parts: [['out', '#00c000']] }
          ] }
});

buildPanel({
  id: 'c4', padTop: 30, padRight: 122, yAxisW: 290, xAxisH: 109,
  xMin: 1e5, xMax: 3.02e8, xTickPad: 40, xTickSize: 40, xTitlePad: 0,
  yType: 'linear', yMin: -182.3, yMax: 179.6, yTicks: phaseTicks, yLabels: phaseLabels,
  yTickPad: 27, yTickFont: { family: NARROW, size: 38 },
  yTitle: 'phase [degree]', yTitleFont: { family: MONO, size: 35 }, yTitlePad: 137,
  series: [
    { data: pairs(phase2Green), color: GREEN, width: 1.6 },
    { data: pairs(phase2Blue), color: BLUE, width: 1.6 },
    { data: pairs(phase2Red), color: RED, width: 1.6 }
  ],
  deco: { yGrid: phase2Grid, yTickMarks: phaseTicks, yMajor: phaseMajor,
          hColor: 'rgba(0,0,0,0.5)', hDash: [2, 3], vColor: 'rgba(0,0,0,0.6)', vColorMajor: 'rgba(0,0,0,0.8)', vDash: [4, 4],
          notes: [
            { x: 1.67e6, y: 87.6, size: 52, parts: [['Out', '#0000ff']] },
            { x: 2.34e6, y: -27.5, size: 52, parts: [['Out', '#ff0000']] },
            { x: 1.14e6, y: -174, size: 70, parts: [['out', '#00c000']] }
          ] }
});
</script>
</body></html>
